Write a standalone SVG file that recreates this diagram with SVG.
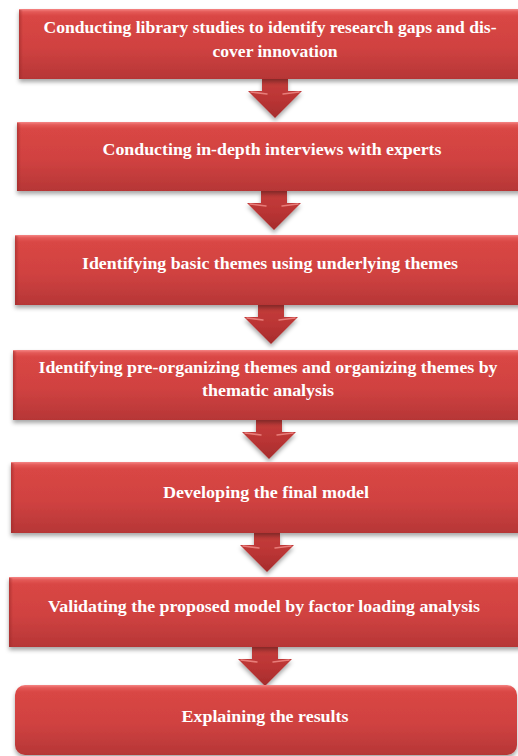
<svg xmlns="http://www.w3.org/2000/svg" width="518" height="756" viewBox="0 0 518 756">
<defs>
<linearGradient id="boxFill" x1="0" y1="0" x2="0" y2="1">
<stop offset="0" stop-color="#f58585"/>
<stop offset="0.04" stop-color="#e45a57"/>
<stop offset="0.1" stop-color="#d94644"/>
<stop offset="0.55" stop-color="#d04241"/>
<stop offset="1" stop-color="#b63636"/>
</linearGradient>
<linearGradient id="leftBevel" x1="0" y1="0" x2="1" y2="0">
<stop offset="0" stop-color="#9c2a2a" stop-opacity="0.6"/>
<stop offset="1" stop-color="#9c2a2a" stop-opacity="0"/>
</linearGradient>
<linearGradient id="arrowFill" x1="0" y1="0" x2="0" y2="1">
<stop offset="0" stop-color="#c53d3b"/>
<stop offset="0.5" stop-color="#bb3535"/>
<stop offset="1" stop-color="#a52c2c"/>
</linearGradient>
<filter id="shadow" x="-10%" y="-10%" width="120%" height="130%">
<feDropShadow dx="0" dy="3" stdDeviation="2" flood-color="#000" flood-opacity="0.35"/>
</filter>
<path id="arrow" d="M-13,0 H13 V12 H27 L0,39 L-27,12 H-13 Z"/>
</defs>
<style>
.box{fill:url(#boxFill);filter:url(#shadow);}
.bev{fill:url(#leftBevel);}
.arr{fill:url(#arrowFill);filter:url(#shadow);}
.hl{fill:none;stroke:#f08a86;stroke-width:1.5;stroke-linecap:round;opacity:0.85;}
.t{font-family:"Liberation Serif","Times New Roman",serif;font-weight:bold;font-size:17.5px;fill:#ffffff;text-anchor:middle;}
</style>

<g id="connectors">
<g transform="translate(275,79)"><use href="#arrow" class="arr"/><path class="hl" d="M-24,13 L-8,15 M24,13 L8,15"/></g>
<g transform="translate(274,191)"><use href="#arrow" class="arr"/><path class="hl" d="M-24,13 L-8,15 M24,13 L8,15"/></g>
<g transform="translate(271,305)"><use href="#arrow" class="arr"/><path class="hl" d="M-24,13 L-8,15 M24,13 L8,15"/></g>
<g transform="translate(269,420)"><use href="#arrow" class="arr"/><path class="hl" d="M-24,13 L-8,15 M24,13 L8,15"/></g>
<g transform="translate(267,533)"><use href="#arrow" class="arr"/><path class="hl" d="M-24,13 L-8,15 M24,13 L8,15"/></g>
<g transform="translate(265,647)"><use href="#arrow" class="arr"/><path class="hl" d="M-24,13 L-8,15 M24,13 L8,15"/></g>
</g>

<g id="node1">
<rect class="box" x="19" y="9" width="520" height="70"/>
<rect class="bev" x="19" y="10" width="4" height="69"/>
<text class="t" x="270" y="33" textLength="453" lengthAdjust="spacingAndGlyphs">Conducting library studies to identify research gaps and dis-</text>
<text class="t" x="275" y="57" textLength="125" lengthAdjust="spacingAndGlyphs">cover innovation</text>
</g>

<g id="node2">
<rect class="box" x="17" y="122" width="520" height="69"/>
<rect class="bev" x="17" y="123" width="4" height="68"/>
<text class="t" x="272" y="155" textLength="339" lengthAdjust="spacingAndGlyphs">Conducting in-depth interviews with experts</text>
</g>

<g id="node3">
<rect class="box" x="15" y="235" width="520" height="70"/>
<rect class="bev" x="15" y="236" width="4" height="69"/>
<text class="t" x="270" y="269" textLength="376" lengthAdjust="spacingAndGlyphs">Identifying basic themes using underlying themes</text>
</g>

<g id="node4">
<rect class="box" x="13" y="350" width="520" height="70"/>
<rect class="bev" x="13" y="351" width="4" height="69"/>
<text class="t" x="268" y="373" textLength="459" lengthAdjust="spacingAndGlyphs">Identifying pre-organizing themes and organizing themes by</text>
<text class="t" x="268" y="396" textLength="132" lengthAdjust="spacingAndGlyphs">thematic analysis</text>
</g>

<g id="node5">
<rect class="box" x="11" y="462" width="520" height="71"/>
<rect class="bev" x="11" y="463" width="4" height="70"/>
<text class="t" x="266" y="498" textLength="206" lengthAdjust="spacingAndGlyphs">Developing the final model</text>
</g>

<g id="node6">
<rect class="box" x="9" y="577" width="520" height="70"/>
<rect class="bev" x="9" y="578" width="4" height="69"/>
<text class="t" x="264" y="612" textLength="432" lengthAdjust="spacingAndGlyphs">Validating the proposed model by factor loading analysis</text>
</g>

<g id="node7">
<rect class="box" x="15" y="685" width="502" height="70" rx="10" ry="10"/>
<text class="t" x="265" y="722" textLength="167" lengthAdjust="spacingAndGlyphs">Explaining the results</text>
</g>
</svg>
